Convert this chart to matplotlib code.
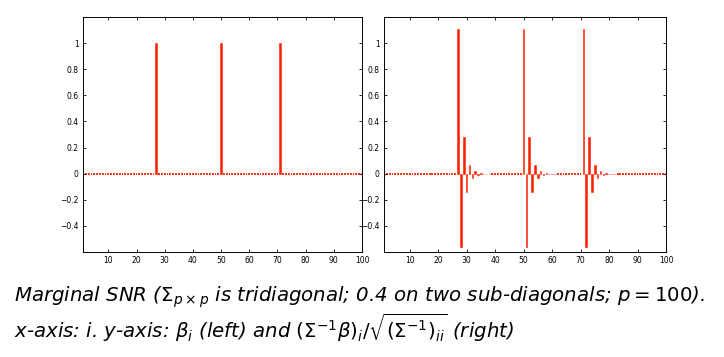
import matplotlib
matplotlib.use("Agg")
import matplotlib.pyplot as plt
import numpy as np

p = 100
idx = np.arange(1, p + 1)

# left panel: beta_i
beta_support = [27, 50, 71]
beta_value = [1.0, 1.0, 1.0]

# right panel: values right after each peak
marg_pattern = [1.11, -0.56, 0.28, -0.14, 0.07, -0.035, 0.018, -0.009,
                0.0045, -0.0022, 0.0011, -0.0006]

beta = np.zeros(p)
for s, v in zip(beta_support, beta_value):
    beta[s - 1] = v

marg = np.zeros(p)
for s in beta_support:
    for k, v in enumerate(marg_pattern):
        marg[s - 1 + k] = v

plt.rcParams['mathtext.fontset'] = 'dejavusans'

fig = plt.figure(figsize=(7.24, 3.57), dpi=100)
ax1 = fig.add_axes([83 / 724, 1 - 252 / 357, 279 / 724, 235 / 357])
ax2 = fig.add_axes([384 / 724, 1 - 252 / 357, 282 / 724, 235 / 357])

red = '#ff2200'
for ax, vals in [(ax1, beta), (ax2, marg)]:
    nz = vals != 0
    ax.bar(idx[nz], vals[nz], width=0.55, color=red, edgecolor=red, linewidth=0.4)
    ax.bar(idx[~nz], vals[~nz], width=0.65, color=red, edgecolor=red, linewidth=1.3)
    ax.set_xlim(1, 100)
    ax.set_ylim(-0.6, 1.2)
    ax.set_xticks(np.arange(10, 101, 10))
    ax.set_yticks([-0.4, -0.2, 0, 0.2, 0.4, 0.6, 0.8, 1])
    ax.set_yticklabels(['\u22120.4', '\u22120.2', '0', '0.2', '0.4', '0.6', '0.8', '1'])
    ax.tick_params(direction='in', length=2.5, width=0.6, labelsize=5.5,
                   top=True, right=True, pad=3)
    for sp in ax.spines.values():
        sp.set_linewidth(0.7)

fig.text(14 / 724, 1 - 297 / 357,
         r'Marginal SNR ($\Sigma_{p\times p}$ is tridiagonal; 0.4 on two sub-diagonals; $p = 100$).',
         fontsize=14.2, style='italic', va='center', ha='left')
fig.text(14 / 724, 1 - 328 / 357,
         r'x-axis: $i$. y-axis: $\beta_i$ (left) and $(\Sigma^{-1}\beta)_i/\sqrt{(\Sigma^{-1})_{ii}}$ (right)',
         fontsize=14.2, style='italic', va='center', ha='left')

fig.savefig('out.png', dpi=100)
